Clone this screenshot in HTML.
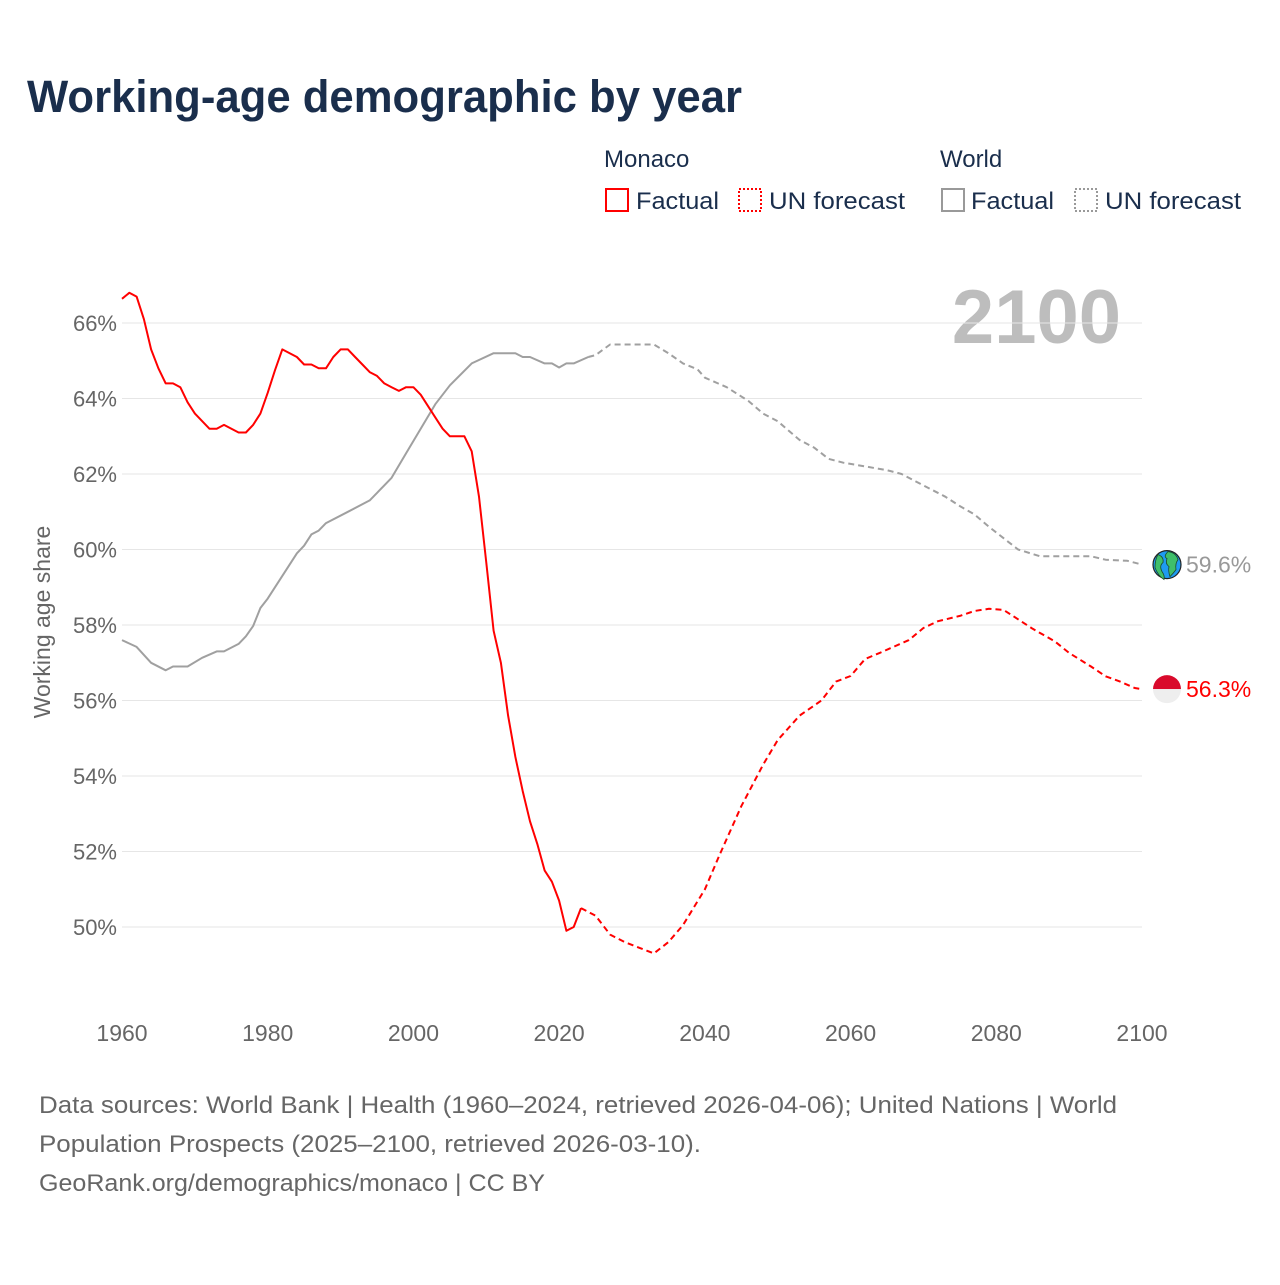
<!DOCTYPE html>
<html><head><meta charset="utf-8">
<style>
body{margin:0;background:#fff;}
svg text{font-family:"Liberation Sans",sans-serif;}
</style></head>
<body>
<svg id="chart" width="1280" height="1280" viewBox="0 0 1280 1280" xmlns="http://www.w3.org/2000/svg">
<rect width="1280" height="1280" fill="#fff"/>
<text x="27" y="112" font-size="45" font-weight="bold" fill="#1a2e4c" textLength="715" lengthAdjust="spacingAndGlyphs">Working-age demographic by year</text>
<g font-size="24" fill="#1a2e4c">
<text x="604" y="167">Monaco</text>
<text x="940" y="167">World</text>
<g><rect x="606" y="189" width="22" height="22" fill="none" stroke="#ff0000" stroke-width="2"/><text x="636" y="209" textLength="83" lengthAdjust="spacingAndGlyphs">Factual</text></g>
<g><rect x="739" y="189" width="22" height="22" fill="none" stroke="#ff0000" stroke-width="2" stroke-dasharray="2,2"/><text x="769" y="209" textLength="136" lengthAdjust="spacingAndGlyphs">UN forecast</text></g>
<g><rect x="942" y="189" width="22" height="22" fill="none" stroke="#999" stroke-width="2"/><text x="971" y="209" textLength="83" lengthAdjust="spacingAndGlyphs">Factual</text></g>
<g><rect x="1075" y="189" width="22" height="22" fill="none" stroke="#999" stroke-width="2" stroke-dasharray="2,2"/><text x="1105" y="209" textLength="136" lengthAdjust="spacingAndGlyphs">UN forecast</text></g>
</g>
<text x="1121" y="343" font-size="76" font-weight="bold" fill="#bdbdbd" text-anchor="end">2100</text>
<text transform="translate(50,622) rotate(-90)" font-size="23" fill="#666" text-anchor="middle">Working age share</text>
<g id="grid"></g><g id="yticks"></g><g id="xticks"></g><g id="series"></g><g id="ends"></g>
<g font-size="24" fill="#666">
<text x="39" y="1113" textLength="1078" lengthAdjust="spacingAndGlyphs">Data sources: World Bank | Health (1960–2024, retrieved 2026-04-06); United Nations | World</text>
<text x="39" y="1152" textLength="662" lengthAdjust="spacingAndGlyphs">Population Prospects (2025–2100, retrieved 2026-03-10).</text>
<text x="39" y="1191" textLength="506" lengthAdjust="spacingAndGlyphs">GeoRank.org/demographics/monaco | CC BY</text>
</g>
</svg>
<script>
const yTicks=[50,52,54,56,58,60,62,64,66];
const xTicks=[1960,1980,2000,2020,2040,2060,2080,2100];
const monacoFactYears=[1960,1961,1962,1963,1964,1965,1966,1967,1968,1969,1970,1972,1973,1974,1976,1977,1978,1979,1980,1981,1982,1984,1985,1986,1987,1988,1989,1990,1991,1992,1993,1994,1995,1996,1997,1998,1999,2000,2001,2002,2003,2004,2005,2007,2008,2009,2010,2011,2012,2013,2014,2015,2016,2017,2018,2019,2020,2021,2022,2023];
const monacoFactValues=[66.64,66.8,66.7,66.1,65.3,64.8,64.4,64.4,64.3,63.9,63.6,63.2,63.2,63.3,63.1,63.1,63.3,63.6,64.15,64.75,65.3,65.1,64.9,64.9,64.8,64.8,65.1,65.3,65.3,65.1,64.9,64.7,64.6,64.4,64.3,64.2,64.3,64.3,64.1,63.8,63.5,63.2,63.0,63.0,62.6,61.4,59.65,57.85,57.0,55.6,54.5,53.6,52.8,52.2,51.5,51.2,50.7,49.9,50.0,50.5];
const monacoFcYears=[2023,2025,2027,2029,2031,2033,2035,2037,2040,2042,2045,2048,2050,2053,2056,2058,2060,2062,2064,2068,2070,2072,2075,2077,2079,2081,2083,2085,2088,2090,2093,2095,2097,2099,2100];
const monacoFcValues=[50.5,50.3,49.8,49.6,49.45,49.3,49.6,50.05,51.0,51.9,53.2,54.3,54.95,55.6,56.0,56.5,56.65,57.1,57.26,57.6,57.92,58.1,58.24,58.37,58.43,58.4,58.15,57.9,57.57,57.26,56.9,56.64,56.5,56.33,56.3];
const worldFactYears=[1960,1962,1964,1966,1967,1969,1971,1973,1974,1976,1977,1978,1979,1980,1984,1985,1986,1987,1988,1991,1994,1995,1997,1999,2001,2003,2005,2008,2011,2014,2015,2016,2018,2019,2020,2021,2022,2024];
const worldFactValues=[57.6,57.42,57.0,56.8,56.9,56.9,57.13,57.3,57.3,57.5,57.7,57.97,58.45,58.7,59.9,60.1,60.4,60.5,60.7,61.0,61.3,61.5,61.9,62.55,63.2,63.85,64.35,64.93,65.2,65.2,65.1,65.1,64.93,64.93,64.82,64.93,64.93,65.1];
const worldFcYears=[2024,2025,2027,2033,2035,2037,2039,2040,2043,2046,2048,2050,2053,2055,2057,2059,2062,2065,2067,2069,2073,2075,2077,2079,2081,2083,2086,2093,2095,2098,2100];
const worldFcValues=[65.1,65.15,65.43,65.43,65.2,64.93,64.77,64.55,64.3,63.93,63.6,63.4,62.9,62.7,62.4,62.3,62.2,62.1,62.0,61.8,61.4,61.15,60.93,60.6,60.3,60.0,59.82,59.82,59.73,59.7,59.6];

const NS='http://www.w3.org/2000/svg';
const X=y=>122+(y-1960)*(1020/140);
const Y=v=>927-(v-50)*37.75;
function mk(tag,attrs,parent){const e=document.createElementNS(NS,tag);for(const k in attrs)e.setAttribute(k,attrs[k]);parent.appendChild(e);return e;}
const grid=document.getElementById('grid'),yt=document.getElementById('yticks'),xt=document.getElementById('xticks'),ser=document.getElementById('series'),ends=document.getElementById('ends');
yTicks.forEach(v=>{
  const l=mk('line',{x1:122,x2:1142,y1:Y(v),y2:Y(v),stroke:'#e6e6e6','stroke-width':1},grid);
  
  
  const t=mk('text',{x:117,y:Y(v)+8,'font-size':22,fill:'#666','text-anchor':'end'},yt);
  t.textContent=v+'%';
  
  
});
xTicks.forEach(y=>{
  const t=mk('text',{x:X(y),y:1041,'font-size':23,fill:'#666','text-anchor':'middle'},xt);
  t.textContent=y;
  
  
});
function line(xs,vs,color,dash,name){
  const d=xs.map((y,i)=>(i?'L':'M')+X(y).toFixed(1)+','+Y(vs[i]).toFixed(1)).join('');
  const p=mk('path',{d:d,fill:'none',stroke:color,'stroke-width':2,'stroke-linejoin':'round'},ser);
  if(dash)p.setAttribute('stroke-dasharray','6,4');
  
  
}
line(worldFactYears,worldFactValues,'#a0a0a0',false,'world-factual-line');
line(worldFcYears,worldFcValues,'#a0a0a0',true,'world-forecast-line');
line(monacoFactYears,monacoFactValues,'#ff0000',false,'monaco-factual-line');
line(monacoFcYears,monacoFcValues,'#ff0000',true,'monaco-forecast-line');
const wv=worldFcValues[worldFcValues.length-1], mv=monacoFcValues[monacoFcValues.length-1];
const wy=Y(wv), my=Y(mv);
const g1=mk('g',{},ends);


mk('circle',{cx:1167,cy:wy,r:14,fill:'#1e9bf0',stroke:'#222','stroke-width':1.2},g1);
mk('path',{d:`M1158 ${wy-10} q6 2 5 8 q-4 3 -1 9 q3 4 2 8 q-6 -4 -9 -12 q0 -8 3 -13z M1168 ${wy-13} q8 1 10 8 q-3 4 -2 10 q-3 4 -6 7 q-2 -6 -1 -10 q-4 -3 -2 -8 q-4 -2 1 -7z`,fill:'#3fbf6a',stroke:'#1a4a2a','stroke-width':0.8},g1);
const g2=mk('g',{},ends);


mk('path',{d:`M1153 ${my} a14 14 0 0 1 28 0z`,fill:'#d90a2c'},g2);
mk('path',{d:`M1153 ${my} a14 14 0 0 0 28 0z`,fill:'#eeeeee'},g2);
const t1=mk('text',{x:1186,y:wy+8,'font-size':23,fill:'#999'},ends);
t1.textContent=wv.toFixed(1)+'%';


const t2=mk('text',{x:1186,y:my+8,'font-size':23,fill:'#ff0000'},ends);
t2.textContent=mv.toFixed(1)+'%';


</script>
</body></html>
